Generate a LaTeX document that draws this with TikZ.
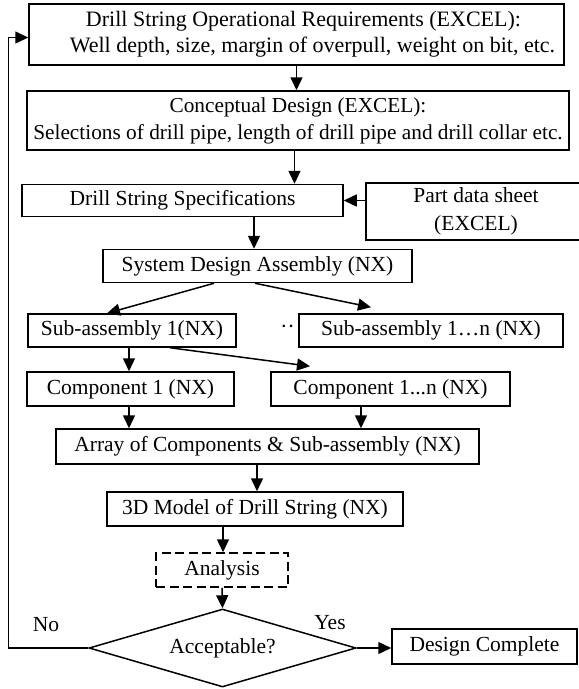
\documentclass[tikz,border=0pt]{standalone}
\usepackage{fontspec}
\setmainfont{Liberation Serif}
\usetikzlibrary{arrows.meta,shapes.geometric,calc}

\tikzset{
  box/.style={draw, line width=1.5pt, rectangle, inner sep=0pt, align=center,
    font=\fontsize{21.5}{22}\selectfont},
  dashbox/.style={box, dash pattern=on 9pt off 4.5pt},
  decision/.style={draw, line width=1.5pt, diamond, inner sep=0pt, aspect=3.4,
    font=\fontsize{21.5}{22}\selectfont},
  lbl/.style={inner sep=0pt, font=\fontsize{21.5}{22}\selectfont},
  arr/.style={line width=1.5pt, -{Triangle[length=13pt,width=12pt]}},
}

\begin{document}
\begin{tikzpicture}[x=1pt,y=-1pt]
\useasboundingbox (0,0) rectangle (579,689);
\clip (0,0) rectangle (579,689);

% requirement and design stages
\node[box, minimum width=535pt, minimum height=61pt, font=\fontsize{22}{26}\selectfont] (req) at (296.5,34.5)
  {\hspace*{14pt}Drill String Operational Requirements (EXCEL):\\\hspace*{32pt}Well depth, size, margin of overpull, weight on bit, etc.};
\node[box, minimum width=542pt, minimum height=59pt, font=\fontsize{21.3}{27}\selectfont] (concept) at (298,120.5)
  {Conceptual Design (EXCEL):\\Selections of drill pipe, length of drill pipe and drill collar etc.};
\node[box, minimum width=321pt, minimum height=32pt] (spec) at (182.5,200.5) {Drill String Specifications};
\node[box, minimum width=220pt, minimum height=57pt, font=\fontsize{21.5}{28}\selectfont] (part) at (476,211.5)
  {Part data sheet\\(EXCEL)};

% assembly tree
\node[box, minimum width=309pt, minimum height=33pt] (sda) at (257.5,266) {System Design Assembly (NX)};
\node[box, minimum width=208pt, minimum height=33pt] (sub1) at (132,330.5) {Sub-assembly 1(NX)};
\node[box, minimum width=264pt, minimum height=33pt] (subn) at (431,330.5) {Sub-assembly 1…n (NX)};
\node[lbl, anchor=base east] (dots) at (295,333) {··};
\node[box, minimum width=207pt, minimum height=34pt] (comp1) at (130.5,389) {Component 1 (NX)};
\node[box, minimum width=239pt, minimum height=34pt] (compn) at (390.5,389) {Component 1...n (NX)};
\node[box, minimum width=423pt, minimum height=35pt] (array) at (267.5,446.5) {Array of Components \& Sub-assembly (NX)};
\node[box, minimum width=296pt, minimum height=34pt] (model) at (255,509) {3D Model of Drill String (NX)};

% analysis and decision
\node[dashbox, minimum width=132pt, minimum height=34pt] (anal) at (222,570) {Analysis};
\node[decision, minimum width=267pt, minimum height=78pt] (accept) at (222.5,648) {Acceptable?};
\node[box, minimum width=185pt, minimum height=35pt] (done) at (484.5,646.5) {Design Complete};
\node[lbl] (no) at (46,625) {No};
\node[lbl] (yes) at (330,623) {Yes};

% connectors
\draw[arr] (req.south) -- (req.south |- concept.north);
\draw[arr] ([xshift=-3.5pt]concept.south) -- ([xshift=-3.5pt]concept.south |- spec.north);
\draw[arr] (spec.east -| part.west) -- (spec.east);
\draw[arr] ([xshift=-3.5pt]sda.north |- spec.south) -- ([xshift=-3.5pt]sda.north);
\draw[arr] ([xshift=-43.5pt]sda.south) -- ([xshift=-25pt]sub1.north);
\draw[arr] ([xshift=-2.5pt]sda.south) -- ([shift={(-60pt,6pt)}]subn.north);
\draw[arr] ([xshift=-3pt]sub1.south) -- ([xshift=-3pt]sub1.south |- comp1.north);
\draw[arr] ([xshift=38pt]sub1.south) -- ([shift={(-80.5pt,5pt)}]compn.north);
\draw[arr] ([xshift=-1.5pt]comp1.south) -- ([xshift=-1.5pt]comp1.south |- array.north);
\draw[arr] ([xshift=-29.5pt]compn.south) -- ([xshift=-29.5pt]compn.south |- array.north);
\draw[arr] ([xshift=-10.5pt]array.south) -- ([xshift=-10.5pt]array.south |- model.north);
\draw[arr] ([xshift=-32pt]model.south) -- ([xshift=-32pt]model.south |- anal.north);
\draw[arr] (anal.south) -- (accept.north);
\draw[arr] (accept.east) -- (accept.east -| done.west);
\draw[arr] (accept.west) -| ([shift={(-20pt,-3pt)}]req.west) -- ([yshift=-3pt]req.west);
\end{tikzpicture}
\end{document}
